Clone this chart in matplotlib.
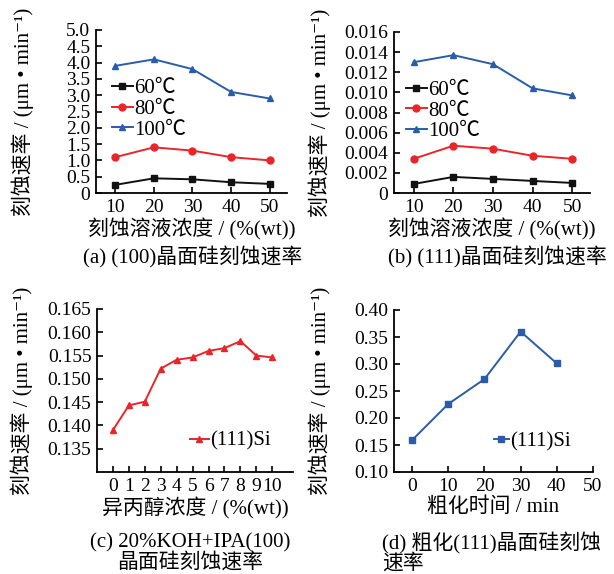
import matplotlib
matplotlib.use("Agg")
import matplotlib.pyplot as plt

plt.rcParams['font.family'] = ['Liberation Serif', 'Noto Sans CJK SC', 'DejaVu Sans']
plt.rcParams['font.size'] = 15
plt.rcParams['axes.unicode_minus'] = False

# (a) / (b): etch rate vs KOH concentration
conc = [10, 20, 30, 40, 50]
temps = ['60℃', '80℃', '100℃']
rate_100 = [
    [0.25, 0.45, 0.42, 0.33, 0.28],
    [1.10, 1.40, 1.30, 1.10, 1.00],
    [3.90, 4.10, 3.80, 3.10, 2.90],
]
rate_111 = [
    [0.0009, 0.0016, 0.0014, 0.0012, 0.0010],
    [0.0034, 0.0047, 0.0044, 0.0037, 0.0034],
    [0.0130, 0.0137, 0.0128, 0.0104, 0.0097],
]

# (c): IPA concentration
ipa = [0, 1, 2, 3, 4, 5, 6, 7, 8, 9, 10]
rate_ipa = [0.1390, 0.1443, 0.1451, 0.1522, 0.1541, 0.1546, 0.1560, 0.1566, 0.1581, 0.1550, 0.1546]

# (d): roughening time
rough_t = [0, 10, 20, 30, 40]
rate_rough = [0.159, 0.226, 0.272, 0.360, 0.301]

colors = ['#111111', '#e8262a', '#2a5caa']
markers = ['s', 'o', '^']
ylab = '刻蚀速率 / (μm • min⁻¹)'
FS = 15
TS = 14

fig = plt.figure(figsize=(6.14, 5.74), dpi=100)


def style(ax, ylab_x):
    for s in ['top', 'right']:
        ax.spines[s].set_visible(False)
    ax.tick_params(direction='in', length=4, width=1.2, labelsize=TS, pad=4)
    ax.spines['left'].set_linewidth(1.3)
    ax.spines['bottom'].set_linewidth(1.3)
    ax.set_ylabel(ylab)
    ax.yaxis.set_label_coords(ylab_x, 0.5)


def legend(ax, x, y, hl):
    ax.legend(loc='upper left', bbox_to_anchor=(x, y), frameon=False, fontsize=FS,
              handlelength=hl, handletextpad=0.05, labelspacing=0.05,
              borderaxespad=0, borderpad=0)


# (a)
ax = fig.add_axes([96 / 614, 1 - 193 / 574, 191 / 614, 163 / 574])
for i in range(3):
    ax.plot(conc, rate_100[i], color=colors[i], marker=markers[i], ms=5, lw=1.4, label=temps[i])
ax.set_xlim(5, 54.5)
ax.set_ylim(0, 5.0)
yt = [0, 0.5, 1.0, 1.5, 2.0, 2.5, 3.0, 3.5, 4.0, 4.5, 5.0]
ax.set_yticks(yt)
ax.set_yticklabels(['0'] + ['%.1f' % v for v in yt[1:]])
ax.set_xticks(conc)
style(ax, -0.325)
ax.set_xlabel('刻蚀溶液浓度 / (%(wt))', labelpad=2)
legend(ax, 0.084, 0.70, 1.0)

# (b)
ax = fig.add_axes([394 / 614, 1 - 193 / 574, 196 / 614, 161 / 574])
for i in range(3):
    ax.plot(conc, rate_111[i], color=colors[i], marker=markers[i], ms=5, lw=1.4, label=temps[i])
ax.set_xlim(5, 54.5)
ax.set_ylim(0, 0.016)
yt = [0, 0.002, 0.004, 0.006, 0.008, 0.010, 0.012, 0.014, 0.016]
ax.set_yticks(yt)
ax.set_yticklabels(['0'] + ['%.3f' % v for v in yt[1:]])
ax.set_xticks(conc)
style(ax, -0.32)
ax.set_xlabel('刻蚀溶液浓度 / (%(wt))', labelpad=2)
legend(ax, 0.061, 0.70, 1.0)

# (c)
ax = fig.add_axes([97 / 614, 1 - 472 / 574, 196 / 614, 163 / 574])
ax.plot(ipa, rate_ipa, color=colors[1], marker='^', ms=5, lw=1.4, label='(111)Si')
ax.set_xlim(-1, 11.3)
ax.set_ylim(0.130, 0.165)
yt = [0.135, 0.140, 0.145, 0.150, 0.155, 0.160, 0.165]
ax.set_yticks(yt)
ax.set_yticklabels(['%.3f' % v for v in yt])
ax.set_xticks(ipa)
style(ax, -0.325)
ax.set_xlabel('异丙醇浓度 / (%(wt))', labelpad=2)
legend(ax, 0.474, 0.25, 0.9)

# (d)
ax = fig.add_axes([394 / 614, 1 - 472 / 574, 199 / 614, 162 / 574])
ax.plot(rough_t, rate_rough, color=colors[2], marker='s', ms=4.5, lw=1.4, label='(111)Si')
ax.set_xlim(-5, 50)
ax.set_ylim(0.10, 0.40)
yt = [0.10, 0.15, 0.20, 0.25, 0.30, 0.35, 0.40]
ax.set_yticks(yt)
ax.set_yticklabels(['%.2f' % v for v in yt])
ax.set_xticks([0, 10, 20, 30, 40, 50])
style(ax, -0.315)
ax.set_xlabel('粗化时间 / min', labelpad=2)
legend(ax, 0.50, 0.25, 0.75)

# captions
fig.text(193 / 614, 1 - 257 / 574, '(a) (100)晶面硅刻蚀速率', ha='center', va='center', fontsize=FS)
fig.text(497 / 614, 1 - 257 / 574, '(b) (111)晶面硅刻蚀速率', ha='center', va='center', fontsize=FS)
fig.text(190 / 614, 1 - 553 / 574, '(c) 20%KOH+IPA(100)\n晶面硅刻蚀速率', ha='center', va='center',
         fontsize=FS, linespacing=1.0)
fig.text(382 / 614, 1 - 553 / 574, '(d) 粗化(111)晶面硅刻蚀\n速率', ha='left', va='center',
         fontsize=FS, linespacing=1.0)

fig.savefig('out.png', dpi=100)
